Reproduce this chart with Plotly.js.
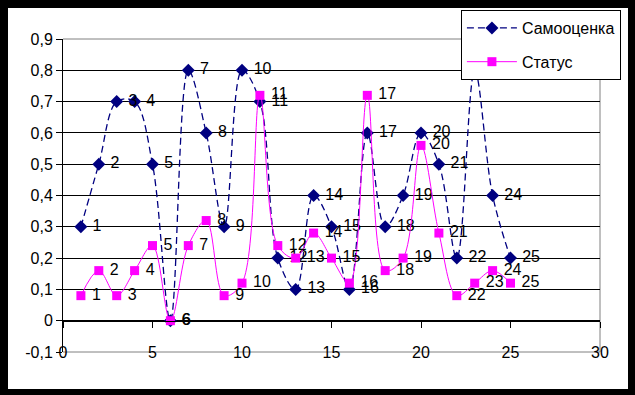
<!DOCTYPE html>
<html><head><meta charset="utf-8">
<script src="https://cdn.plot.ly/plotly-3.0.1.min.js"></script>
<style>
html,body{margin:0;padding:0;background:#000;width:635px;height:395px;overflow:hidden}
#chart{position:absolute;left:8px;top:8px;width:620px;height:381px;background:#fff}
</style></head><body><div id="chart"></div>
<script>
const pointNumbers = [1,2,3,4,5,6,7,8,9,10,11,12,13,14,15,16,17,18,19,20,21,22,23,24,25];
const samoocenka = [0.3,0.5,0.7,0.7,0.5,0,0.8,0.6,0.3,0.8,0.7,0.2,0.1,0.4,0.3,0.1,0.6,0.3,0.4,0.6,0.5,0.2,0.8,0.4,0.2];
const statusValues = [0.08,0.16,0.08,0.16,0.24,0,0.24,0.32,0.08,0.12,0.72,0.24,0.2,0.28,0.2,0.12,0.72,0.16,0.2,0.56,0.28,0.08,0.12,0.16,0.12];
const pointLabels = ["1","2","3","4","5","6","7","8","9","10","11","12","13","14","15","16","17","18","19","20","21","22","23","24","25"];
const yTickVals = [-0.1,0,0.1,0.2,0.3,0.4,0.5,0.6,0.7,0.8,0.9];
const yTickText = ["-0,1","0","0,1","0,2","0,3","0,4","0,5","0,6","0,7","0,8","0,9"];
const xTickVals = [0,5,10,15,20,25,30];
const xTickText = ["0","5","10","15","20","25","30"];
const seriesNames = ["Самооценка","Статус"];

const FONT = "Liberation Sans, Arial, sans-serif";

const traces = [
  {
    x: pointNumbers, y: samoocenka, text: pointLabels, name: seriesNames[0],
    type: "scatter", mode: "lines+markers+text", textposition: "middle right",
    texttemplate: "\u00a0%{text}",
    textfont: {family: FONT, size: 16, color: "#000"},
    line: {color: "#000080", width: 1.3, dash: "7px,4px", shape: "spline", smoothing: 1},
    marker: {symbol: "diamond", size: 10, color: "#000080"},
    legendgroup: "a", cliponaxis: false
  },
  {
    x: pointNumbers, y: statusValues, text: pointLabels, name: seriesNames[1],
    type: "scatter", mode: "lines+markers+text", textposition: "middle right",
    texttemplate: "\u00a0%{text}",
    textfont: {family: FONT, size: 16, color: "#000"},
    line: {color: "#FF00FF", width: 1, shape: "spline", smoothing: 1},
    marker: {symbol: "square", size: 9, color: "#FF00FF"},
    legendgroup: "b", cliponaxis: false
  }
];

const layout = {
  width: 620, height: 381,
  margin: {l: 55, r: 28, t: 31, b: 37, pad: 0, autoexpand: false},
  paper_bgcolor: "#fff", plot_bgcolor: "#fff",
  font: {family: FONT, size: 16, color: "#000"},
  showlegend: true,
  legend: {
    x: 0.741, y: 1.0927, xanchor: "left", yanchor: "top",
    bgcolor: "#fff", bordercolor: "#000", borderwidth: 1,
    font: {family: FONT, size: 16, color: "#000"},
    itemwidth: 50, tracegroupgap: 10, traceorder: "grouped"
  },
  xaxis: {
    range: [0, 30], tickvals: xTickVals, ticktext: xTickText,
    anchor: "free", position: 0.1,
    showline: true, linecolor: "#000", linewidth: 1,
    ticks: "outside", ticklen: 6, tickcolor: "#000",
    showgrid: false, zeroline: false,
    ticklabelstandoff: 11,
    tickfont: {family: FONT, size: 16, color: "#000"}
  },
  yaxis: {
    range: [-0.1, 0.9], tickvals: yTickVals, ticktext: yTickText,
    showline: true, linecolor: "#000", linewidth: 1,
    ticks: "outside", ticklen: 6, tickcolor: "#000",
    showgrid: true, gridcolor: "#000", gridwidth: 1, zeroline: false,
    tickfont: {family: FONT, size: 16, color: "#000"}
  },
  shapes: [
    {type: "path", xref: "paper", yref: "paper", path: "M 0 1 L 1 1 L 1 0 L 0 0",
     line: {color: "#808080", width: 1}, layer: "below"}
  ]
};

Plotly.newPlot("chart", traces, layout, {displayModeBar: false, staticPlot: true});
</script></body></html>
